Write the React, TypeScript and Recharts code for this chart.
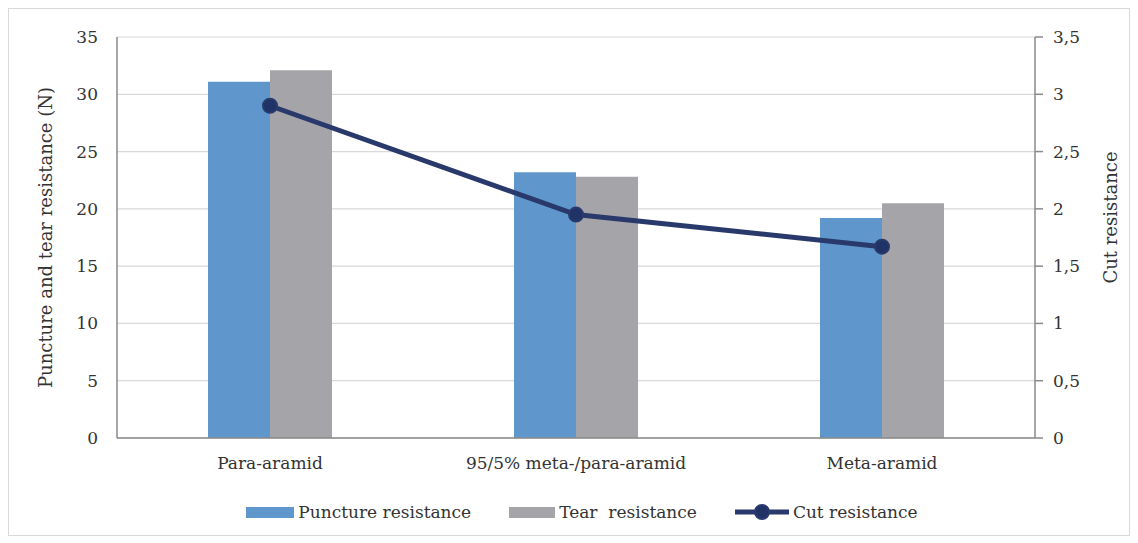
import {
  Bar,
  CartesianGrid,
  ComposedChart,
  Legend,
  Line,
  XAxis,
  YAxis,
} from 'recharts'

// fibre types on the x axis
const categories = ['Para-aramid', '95/5% meta-/para-aramid', 'Meta-aramid']
// N, left axis
const punctureValues = [31.1, 23.2, 19.2]
const tearValues = [32.1, 22.8, 20.5]
// right axis
const cutValues = [2.9, 1.95, 1.67]

const leftTicks = [0, 5, 10, 15, 20, 25, 30, 35]
const rightTicks = [0, 0.5, 1, 1.5, 2, 2.5, 3, 3.5]

const PUNCTURE = '#5f97cd'
const TEAR = '#a5a5a9'
const CUT = '#29396b'
const AXIS = '#8a8a8a'
const TEXT = '#333333'
const FONT = '"DejaVu Serif", "Liberation Serif", "Noto Serif", serif'

const data = categories.map((name, i) => ({
  name,
  puncture: punctureValues[i],
  tear: tearValues[i],
  cut: cutValues[i],
}))

const tickStyle = {
  fill: TEXT,
  fontSize: 17,
  fontFamily: FONT,
}

function LeftTitle(props: any) {
  const vb = props.viewBox
  if (!vb) return null
  const cx = vb.x + 36
  const cy = vb.y + vb.height / 2
  return (
    <text
      x={cx}
      y={cy}
      transform={`rotate(-90 ${cx} ${cy})`}
      textAnchor="middle"
      dominantBaseline="central"
      fill={TEXT}
      fontSize={18}
      style={{ fontFamily: FONT }}
    >
      Puncture and tear resistance (N)
    </text>
  )
}

function RightTitle(props: any) {
  const vb = props.viewBox
  if (!vb) return null
  const cx = vb.x + 75
  const cy = vb.y + vb.height / 2 - 20
  return (
    <text
      x={cx}
      y={cy}
      transform={`rotate(-90 ${cx} ${cy})`}
      textAnchor="middle"
      dominantBaseline="central"
      fill={TEXT}
      fontSize={18}
      style={{ fontFamily: FONT }}
    >
      Cut resistance
    </text>
  )
}

function LegendContent() {
  const item = { display: 'flex', alignItems: 'center', gap: 4 }
  const label = {
    fontSize: 17,
    fontFamily: FONT,
    color: TEXT,
    whiteSpace: 'pre' as const,
  }
  return (
    <div
      style={{
        height: 40,
        boxSizing: 'border-box',
        paddingTop: 14,
        paddingLeft: 26,
        display: 'flex',
        justifyContent: 'center',
        alignItems: 'center',
        gap: 38,
      }}
    >
      <div style={item}>
        <span style={{ width: 48, height: 11, background: PUNCTURE }} />
        <span style={label}>Puncture resistance</span>
      </div>
      <div style={item}>
        <span style={{ width: 46, height: 11, background: TEAR }} />
        <span style={label}>Tear  resistance</span>
      </div>
      <div style={item}>
        <svg width={54} height={16}>
          <line x1={0} y1={8} x2={54} y2={8} stroke={CUT} strokeWidth={5} />
          <circle cx={27} cy={8} r={7} fill="#1f3366" stroke={CUT} strokeWidth={2} />
        </svg>
        <span style={label}>Cut resistance</span>
      </div>
    </div>
  )
}

export default function App() {
  return (
    <div
      style={{
        width: 1120,
        height: 526,
        border: '1px solid #d9d9d9',
        background: '#fff',
        fontFamily: FONT,
      }}
    >
      <ComposedChart
        width={1120}
        height={526}
        data={data}
        margin={{ top: 28, right: 0, left: 0, bottom: 10 }}
        barGap={0}
        style={{ fontFamily: FONT }}
      >
        <CartesianGrid
          yAxisId="left"
          vertical={false}
          stroke="#d9d9d9"
          strokeWidth={1.2}
        />
        <XAxis
          dataKey="name"
          height={47}
          tickLine={false}
          tickSize={8}
          tickMargin={11}
          axisLine={{ stroke: AXIS, strokeWidth: 1.5 }}
          tick={tickStyle}
          interval={0}
        />
        <YAxis
          yAxisId="left"
          orientation="left"
          width={108}
          domain={[0, 35]}
          ticks={leftTicks}
          interval={0}
          tickLine={false}
          tickSize={6}
          tickMargin={13}
          axisLine={{ stroke: AXIS, strokeWidth: 1.5 }}
          tick={tickStyle}
          label={<LeftTitle />}
        />
        <YAxis
          yAxisId="right"
          orientation="right"
          width={94}
          domain={[0, 3.5]}
          ticks={rightTicks}
          interval={0}
          tickLine={{ stroke: AXIS, strokeWidth: 1.5 }}
          tickSize={8}
          tickMargin={10}
          axisLine={{ stroke: AXIS, strokeWidth: 1.5 }}
          tick={tickStyle}
          tickFormatter={(v: number) => String(v).replace('.', ',')}
          label={<RightTitle />}
        />
        <Legend verticalAlign="bottom" content={<LegendContent />} />
        <Bar
          yAxisId="left"
          dataKey="puncture"
          name="Puncture resistance"
          fill={PUNCTURE}
          barSize={62}
          isAnimationActive={false}
        />
        <Bar
          yAxisId="left"
          dataKey="tear"
          name="Tear  resistance"
          fill={TEAR}
          barSize={62}
          isAnimationActive={false}
        />
        <Line
          yAxisId="right"
          type="linear"
          dataKey="cut"
          name="Cut resistance"
          stroke={CUT}
          strokeWidth={5}
          dot={{ r: 7, fill: '#1f3366', stroke: CUT, strokeWidth: 2 }}
          activeDot={false}
          isAnimationActive={false}
        />
      </ComposedChart>
    </div>
  )
}
